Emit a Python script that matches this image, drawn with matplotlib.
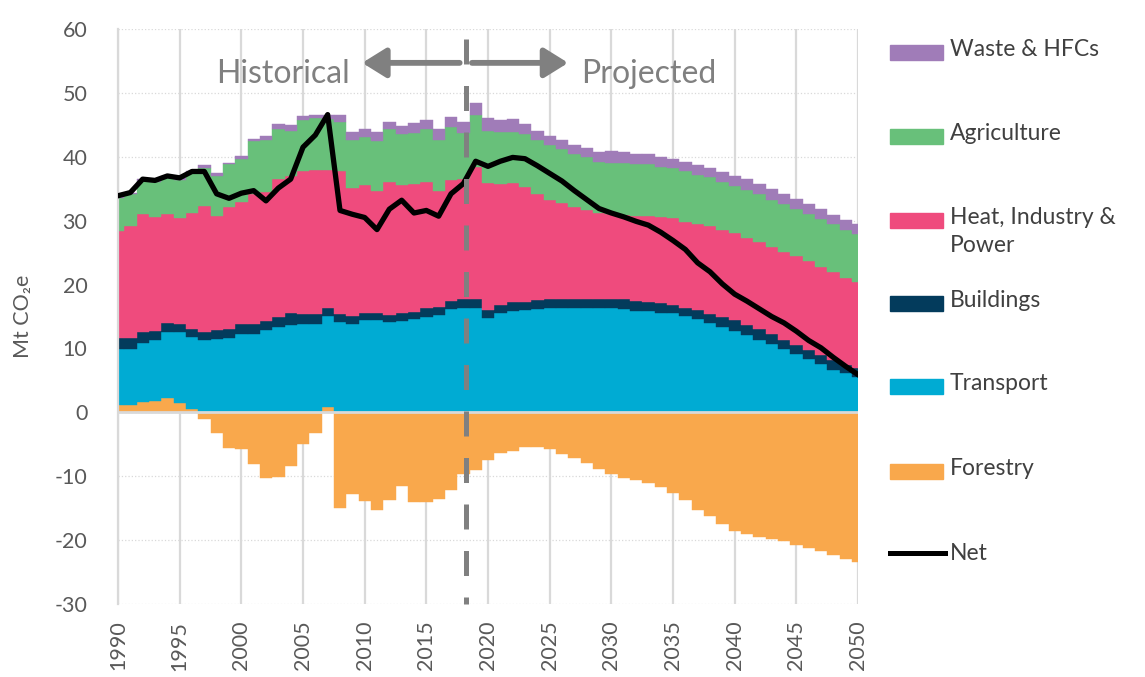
""" Stacked emissions by sector (Mt CO2e), 1990-2050, with the net line.
    Historical values up to 2018, projected values afterwards.
"""

import numpy as np
import matplotlib
matplotlib.use('Agg')
from matplotlib import pyplot as plt
from matplotlib.patches import Rectangle

plt.rcParams['font.family'] = ['Lato', 'DejaVu Sans']
plt.rcParams['axes.unicode_minus'] = False

years = np.arange(1990, 2051)

forestry = [1.1, 1.1, 1.6, 1.8, 2.2, 1.4, 0.5, -1.0, -3.2, -5.6,
            -5.8, -8.1, -10.2, -10.1, -8.4, -4.9, -3.2, 0.8, -15.0, -12.8,
            -13.9, -15.3, -13.7, -11.6, -14.1, -14.1, -13.6, -12.1, -9.7, -9.1,
            -7.5, -6.4, -6.0, -5.5, -5.5, -5.8, -6.5, -7.2, -8.0, -8.9,
            -9.7, -10.2, -10.6, -11.1, -11.7, -12.7, -13.7, -15.3, -16.3, -17.5,
            -18.5, -19.1, -19.5, -19.9, -20.2, -20.7, -21.3, -21.7, -22.3, -22.9,
            -23.5]
transport = [8.8, 8.8, 9.2, 9.6, 10.3, 11.2, 11.3, 11.3, 11.5, 11.7,
             12.3, 12.3, 12.9, 13.3, 13.6, 13.9, 13.9, 14.3, 14.2, 13.9,
             14.5, 14.5, 14.2, 14.3, 14.6, 15.0, 15.2, 16.1, 16.4, 16.4,
             14.7, 15.5, 15.8, 16.0, 16.1, 16.3, 16.3, 16.3, 16.3, 16.3,
             16.3, 16.1, 15.9, 15.8, 15.6, 15.5, 15.1, 14.6, 14.0, 13.4,
             12.8, 12.1, 11.3, 10.7, 9.9, 9.1, 8.3, 7.6, 6.7, 6.1,
             5.5]
buildings = [1.7, 1.7, 1.7, 1.3, 1.5, 1.3, 1.3, 1.2, 1.4, 1.4,
             1.5, 1.5, 1.4, 1.7, 1.9, 1.5, 1.5, 1.3, 1.2, 1.2,
             1.0, 1.0, 1.0, 1.2, 1.1, 1.3, 1.3, 1.4, 1.4, 1.4,
             1.3, 1.3, 1.4, 1.3, 1.5, 1.4, 1.5, 1.5, 1.5, 1.5,
             1.5, 1.6, 1.6, 1.4, 1.5, 1.3, 1.3, 1.4, 1.4, 1.6,
             1.6, 1.5, 1.7, 1.5, 1.5, 1.4, 1.45, 1.4, 1.5, 1.3,
             1.4]
heat = [16.8, 17.5, 18.5, 17.9, 17.0, 16.5, 18.1, 19.8, 17.8, 19.1,
        19.2, 20.4, 20.2, 21.6, 21.5, 22.4, 22.6, 21.6, 22.4, 20.0,
        20.1, 19.1, 20.9, 20.1, 20.0, 19.8, 18.1, 18.9, 18.7, 20.6,
        19.9, 18.9, 18.7, 17.9, 16.6, 15.6, 15.0, 14.3, 13.9, 13.4,
        13.3, 13.2, 13.2, 13.5, 13.4, 13.6, 13.4, 13.5, 13.7, 13.5,
        13.6, 13.7, 13.7, 13.7, 13.7, 13.9, 13.9, 13.8, 13.7, 13.7,
        13.5]
agriculture = [5.2, 5.0, 5.2, 5.4, 5.7, 6.0, 6.2, 6.0, 6.3, 6.6,
               6.7, 8.2, 8.2, 7.7, 7.0, 7.9, 8.0, 7.9, 7.6, 7.5,
               7.5, 7.9, 8.2, 7.9, 8.1, 8.2, 8.0, 8.2, 7.2, 8.1,
               8.2, 8.2, 8.0, 8.4, 8.5, 8.5, 8.4, 8.4, 8.2, 8.0,
               8.0, 8.2, 8.2, 8.1, 7.9, 7.9, 7.9, 7.7, 7.8, 7.6,
               7.4, 7.5, 7.5, 7.4, 7.5, 7.5, 7.4, 7.4, 7.6, 7.5,
               7.5]
waste = [0.3, 0.3, 0.3, 0.3, 0.3, 0.3, 0.3, 0.4, 0.4, 0.3,
         0.4, 0.4, 0.6, 0.9, 0.9, 0.7, 0.6, 0.7, 1.2, 1.2,
         1.3, 1.4, 1.2, 1.3, 1.5, 1.4, 1.7, 1.7, 1.8, 1.9,
         1.9, 1.8, 2.0, 1.6, 1.4, 1.4, 1.5, 1.4, 1.4, 1.6,
         1.8, 1.7, 1.6, 1.6, 1.5, 1.3, 1.5, 1.5, 1.4, 1.5,
         1.6, 1.7, 1.5, 1.6, 1.6, 1.5, 1.5, 1.6, 1.4, 1.5,
         1.5]

labels = ['Forestry', 'Transport', 'Buildings', 'Heat, Industry &\nPower',
          'Agriculture', 'Waste & HFCs']
colors = ['#f9a84c', '#00abd3', '#033b5c', '#ef4b7d', '#68c07a', '#a07cb8']
series = [forestry, transport, buildings, heat, agriculture, waste]

y_ticks = np.arange(-30, 61, 10)
x_ticks = np.arange(1990, 2051, 5)
split_year = 2018.2

grey = '#595959'
light = '#d9d9d9'

fig = plt.figure(figsize=(11.45, 6.77), dpi=100)
ax = fig.add_axes([118 / 1145, 73 / 677, 740 / 1145, 575 / 677])

# positive parts stack upward from zero, negative forestry hangs below
data = np.array(series, dtype=float)
pos_base = np.zeros(len(years))
for i, (vals, col) in enumerate(zip(data, colors)):
    if i == 0:
        ax.bar(years, vals, width=1.0, color=col, ec=col, lw=0.3, zorder=2)
        pos_base = np.clip(vals, 0, None)
    else:
        ax.bar(years, vals, width=1.0, bottom=pos_base, color=col, ec=col,
               lw=0.3, zorder=2)
        pos_base = pos_base + vals

net = data.sum(axis=0)
ax.axhline(0, color=light, lw=2, zorder=3)
ax.plot(years, net, color='black', lw=3.8, solid_joinstyle='round', zorder=5)

# split between historical and projected
ax.plot([split_year, split_year], [58.4, -30], color='#808080', lw=3.6,
        dashes=(5, 4.3), zorder=6, clip_on=False)
arrow = dict(arrowstyle='-|>,head_length=0.45,head_width=0.28',
             color='#808080', lw=4.2, mutation_scale=32, shrinkA=0, shrinkB=0)
ax.annotate('', xy=(2009.8, 54.7), xytext=(2017.7, 54.7), arrowprops=arrow)
ax.annotate('', xy=(2026.5, 54.7), xytext=(2018.7, 54.7), arrowprops=arrow)
ax.text(2003.4, 51.5, 'Historical', ha='center', va='baseline',
        fontsize=23, color='#808080')
ax.text(2033.0, 51.5, 'Projected', ha='center', va='baseline',
        fontsize=23, color='#808080')

ax.set_xlim(1990, 2050)
ax.set_ylim(-30, 60)
ax.set_yticks(y_ticks)
ax.set_xticks(x_ticks)
ax.set_xticklabels([str(y) for y in x_ticks], rotation=90, va='top')
ax.tick_params(axis='both', length=0, labelsize=15.5, labelcolor=grey)
ax.tick_params(axis='y', pad=22)
ax.tick_params(axis='x', pad=12)
ax.xaxis.grid(True, color=light, lw=1.6, zorder=0)
ax.yaxis.grid(True, color=light, lw=0.9, ls=':', zorder=0)
ax.set_axisbelow(True)
for side in ['top', 'right', 'bottom']:
    ax.spines[side].set_visible(False)
ax.spines['left'].set_color(light)
ax.spines['left'].set_linewidth(1.6)

fig.text(23 / 1145, 1 - 316 / 677, 'Mt CO\u2082e', rotation=90, ha='center',
         va='center', fontsize=15.5, color=grey)

# legend drawn in figure pixels on the right
leg = fig.add_axes([0, 0, 1, 1])
leg.set_xlim(0, 1145)
leg.set_ylim(677, 0)
leg.axis('off')
leg_y = [471, 386, 303, 220, 136, 52]
for lab, col, yc in zip(labels, colors, leg_y):
    leg.add_patch(Rectangle((890, yc - 7.5), 53, 15, color=col))
    leg.text(950, yc - 13, lab, ha='left', va='top', fontsize=16.5,
             color='#404040', linespacing=1.4)
leg.plot([890, 945], [553, 553], color='black', lw=3.6)
leg.text(950, 553, 'Net', ha='left', va='center', fontsize=16.5, color='#404040')

fig.savefig('out.png', dpi=100)
